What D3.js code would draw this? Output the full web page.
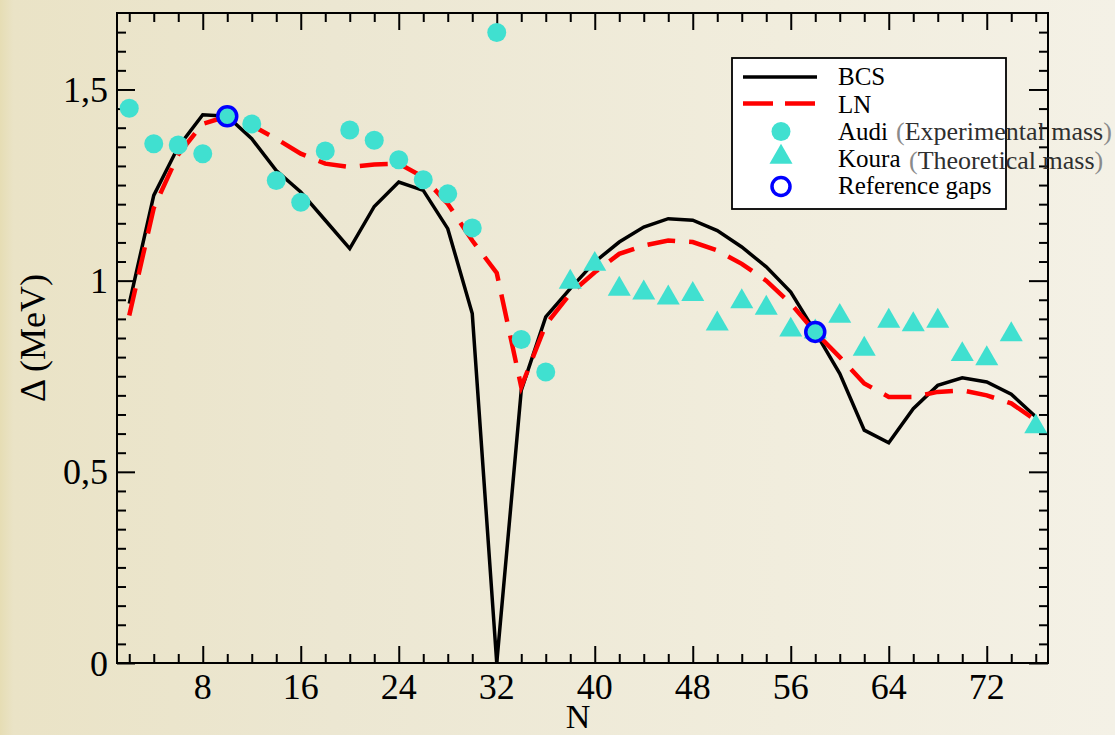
<!DOCTYPE html>
<html>
<head>
<meta charset="utf-8">
<script src="https://cdn.jsdelivr.net/npm/d3@7/dist/d3.min.js"></script>
<style>
  html, body { margin: 0; padding: 0; }
  body { width: 1115px; height: 735px; overflow: hidden; }
  svg { display: block; }
</style>
</head>
<body>
<svg id="chart" width="1115" height="735"></svg>
<script>
// ---------- data ----------
const nGrid = [2,4,6,8,10,12,14,16,18,20,22,24,26,28,30,32,34,36,38,40,42,44,46,48,50,52,54,56,58,60,62,64,66,68,70,72,74,76];
const bcsValues = [0.94,1.223,1.35,1.434,1.43,1.371,1.288,1.232,1.158,1.084,1.194,1.258,1.236,1.136,0.914,0.0,0.713,0.905,0.979,1.049,1.101,1.140,1.162,1.158,1.131,1.088,1.036,0.970,0.866,0.757,0.609,0.576,0.665,0.726,0.746,0.735,0.703,0.644];
const lnValues  = [0.909,1.19,1.33,1.41,1.43,1.406,1.371,1.332,1.306,1.297,1.304,1.306,1.271,1.201,1.105,1.02,0.722,0.885,0.966,1.022,1.070,1.092,1.105,1.101,1.079,1.044,1.0,0.94,0.865,0.80,0.731,0.696,0.696,0.709,0.713,0.70,0.679,0.635];

const audiN = [2,4,6,8,10,12,14,16,18,20,22,24,26,28,30,32,34,36];
const audiValues = [1.451,1.358,1.355,1.332,1.429,1.41,1.262,1.205,1.339,1.394,1.367,1.316,1.264,1.227,1.138,1.649,0.846,0.761];

const kouraN = [38,40,42,44,46,48,50,52,54,56,58,60,62,64,66,68,70,72,74,76];
const kouraValues = [0.996,1.043,0.978,0.968,0.955,0.964,0.887,0.945,0.928,0.871,0.866,0.907,0.821,0.894,0.885,0.894,0.807,0.796,0.859,0.618];

const refN = [10,58];
const refValues = [1.43,0.866];

const xMajorTicks = [8,16,24,32,40,48,56,64,72];
const yMajorTicks = [0,0.5,1,1.5];
const yTickLabels = ["0","0,5","1","1,5"];

const legendLabels = ["BCS","LN","Audi","Koura","Reference gaps"];
const legendNotes = ["","","Experimental mass","Theoretical mass",""];

// ---------- layout ----------
const svg = d3.select("#chart");
const L = 117, R = 1048, T = 13, B = 663;
const FONT = "'Liberation Serif', 'Times New Roman', serif";
const TURQ = "#40E0D0";

const defs = svg.append("defs");
const grad = defs.append("linearGradient").attr("id","bg").attr("x1","0").attr("x2","1").attr("y1","0").attr("y2","0");
grad.append("stop").attr("offset","0").attr("stop-color","#E6DDB4");
grad.append("stop").attr("offset","0.012").attr("stop-color","#EAE3C6");
grad.append("stop").attr("offset","0.3").attr("stop-color","#ECE7D2");
grad.append("stop").attr("offset","0.7").attr("stop-color","#F1EDDD");
grad.append("stop").attr("offset","1").attr("stop-color","#F4F1E6");
svg.append("rect").attr("width",1115).attr("height",735).attr("fill","url(#bg)");

defs.append("clipPath").attr("id","clip").append("rect")
  .attr("x",L).attr("y",T).attr("width",R-L).attr("height",B-T);

const x = d3.scaleLinear().domain([1,77]).range([L,R]);
const y = d3.scaleLinear().domain([0,1.7]).range([B,T]);

// ---------- axes (ticks inward, mirrored) ----------
const xMinor = d3.range(2,77,2).filter(v => v % 8 !== 0);
const yMinor = d3.range(0,34).map(i => +(i*0.05).toFixed(2)).filter(v => Math.abs(v*2 - Math.round(v*2)) > 1e-6 && v > 0);

function styleAxis(g){
  g.select(".domain").remove();
  g.selectAll(".tick line").attr("stroke","#000").attr("stroke-width",2);
}
// bottom
svg.append("g").attr("transform",`translate(0,${B})`)
  .call(d3.axisBottom(x).tickValues(xMajorTicks).tickSize(-17).tickFormat(""))
  .call(styleAxis);
svg.append("g").attr("transform",`translate(0,${B})`)
  .call(d3.axisBottom(x).tickValues(xMinor).tickSize(-9).tickFormat(""))
  .call(styleAxis);
// top
svg.append("g").attr("transform",`translate(0,${T})`)
  .call(d3.axisTop(x).tickValues(xMajorTicks).tickSize(-17).tickFormat(""))
  .call(styleAxis);
svg.append("g").attr("transform",`translate(0,${T})`)
  .call(d3.axisTop(x).tickValues(xMinor).tickSize(-9).tickFormat(""))
  .call(styleAxis);
// left
svg.append("g").attr("transform",`translate(${L},0)`)
  .call(d3.axisLeft(y).tickValues(yMajorTicks).tickSize(-18).tickFormat(""))
  .call(styleAxis);
svg.append("g").attr("transform",`translate(${L},0)`)
  .call(d3.axisLeft(y).tickValues(yMinor).tickSize(-9).tickFormat(""))
  .call(styleAxis);
// right
svg.append("g").attr("transform",`translate(${R},0)`)
  .call(d3.axisRight(y).tickValues(yMajorTicks).tickSize(-19).tickFormat(""))
  .call(styleAxis);
svg.append("g").attr("transform",`translate(${R},0)`)
  .call(d3.axisRight(y).tickValues(yMinor).tickSize(-9).tickFormat(""))
  .call(styleAxis);

// frame
svg.append("rect").attr("x",L).attr("y",T).attr("width",R-L).attr("height",B-T)
  .attr("fill","none").attr("stroke","#000").attr("stroke-width",2);

// tick labels
svg.append("g").selectAll("text").data(xMajorTicks).join("text")
  .attr("x",d => x(d)).attr("y",B+36)
  .attr("text-anchor","middle").attr("font-family",FONT).attr("font-size",36).attr("fill","#000")
  .text(d => d);
svg.append("g").selectAll("text").data(yMajorTicks).join("text")
  .attr("x",L-9).attr("y",d => y(d)+12.5)
  .attr("text-anchor","end").attr("font-family",FONT).attr("font-size",36).attr("fill","#000")
  .text((d,i) => yTickLabels[i]);

// axis titles
svg.append("text").attr("x",578).attr("y",728)
  .attr("text-anchor","middle").attr("font-family",FONT).attr("font-size",34).text("N");
svg.append("text").attr("transform","translate(45,338) rotate(-90)")
  .attr("text-anchor","middle").attr("font-family",FONT).attr("font-size",36).text("Δ (MeV)");

// ---------- series ----------
const plot = svg.append("g").attr("clip-path","url(#clip)");
const line = d3.line().x(d => x(d[0])).y(d => y(d[1]));

plot.append("path").datum(nGrid.map((n,i) => [n,bcsValues[i]]))
  .attr("d",line).attr("fill","none").attr("stroke","#000").attr("stroke-width",3.5)
  .attr("stroke-linejoin","miter");
plot.append("path").datum(nGrid.map((n,i) => [n,lnValues[i]]))
  .attr("d",line).attr("fill","none").attr("stroke","#FF0000").attr("stroke-width",4.5)
  .attr("stroke-dasharray","28,14");

const marks = svg.append("g");
marks.selectAll("circle.audi").data(audiN.map((n,i) => [n,audiValues[i]])).join("circle")
  .attr("class","audi").attr("cx",d => x(d[0])).attr("cy",d => y(d[1])).attr("r",9.5).attr("fill",TURQ);
const tri = d3.symbol().type(d3.symbolTriangle).size(230);
marks.selectAll("path.koura").data(kouraN.map((n,i) => [n,kouraValues[i]])).join("path")
  .attr("class","koura").attr("d",tri).attr("transform",d => `translate(${x(d[0])},${y(d[1])})`).attr("fill",TURQ);
marks.selectAll("circle.ref").data(refN.map((n,i) => [n,refValues[i]])).join("circle")
  .attr("class","ref").attr("cx",d => x(d[0])).attr("cy",d => y(d[1])).attr("r",9.5)
  .attr("fill",TURQ).attr("stroke","#0000FF").attr("stroke-width",3.5);

// ---------- legend ----------
const lg = svg.append("g");
lg.append("rect").attr("x",732).attr("y",58).attr("width",274).attr("height",151)
  .attr("fill","#fff").attr("stroke","#000").attr("stroke-width",1.8);
const baselines = [85,112.5,140,167,194];
const symX = 781;
lg.append("line").attr("x1",743).attr("x2",817).attr("y1",baselines[0]-8).attr("y2",baselines[0]-8)
  .attr("stroke","#000").attr("stroke-width",3.5);
lg.append("line").attr("x1",743).attr("x2",817).attr("y1",baselines[1]-9).attr("y2",baselines[1]-9)
  .attr("stroke","#FF0000").attr("stroke-width",4.5).attr("stroke-dasharray","30,12");
lg.append("circle").attr("cx",symX).attr("cy",baselines[2]-8.5).attr("r",9.5).attr("fill",TURQ);
lg.append("path").attr("d",tri).attr("transform",`translate(${symX},${baselines[3]-10})`).attr("fill",TURQ);
lg.append("circle").attr("cx",symX).attr("cy",baselines[4]-7.5).attr("r",9).attr("fill","none")
  .attr("stroke","#0000FF").attr("stroke-width",3.5);

lg.selectAll("text.lab").data(legendLabels).join("text").attr("class","lab")
  .attr("x",838).attr("y",(d,i) => baselines[i])
  .attr("font-family",FONT).attr("font-size",25).attr("fill","#000").text(d => d);

// notes overlapping the legend edge
const noteX = [0,0,896,909,0];
const noteY = [0,0,140,169,0];
legendNotes.forEach((t,i) => {
  if (!t) return;
  const tx = svg.append("text").attr("x",noteX[i]).attr("y",noteY[i])
    .attr("font-family",FONT).attr("font-size",26).attr("fill","#333");
  tx.append("tspan").attr("fill","#8a8a8a").text("(");
  tx.append("tspan").attr("fill","#2f2f2f").text(t);
  tx.append("tspan").attr("fill","#8a8a8a").text(")");
});
</script>
</body>
</html>
